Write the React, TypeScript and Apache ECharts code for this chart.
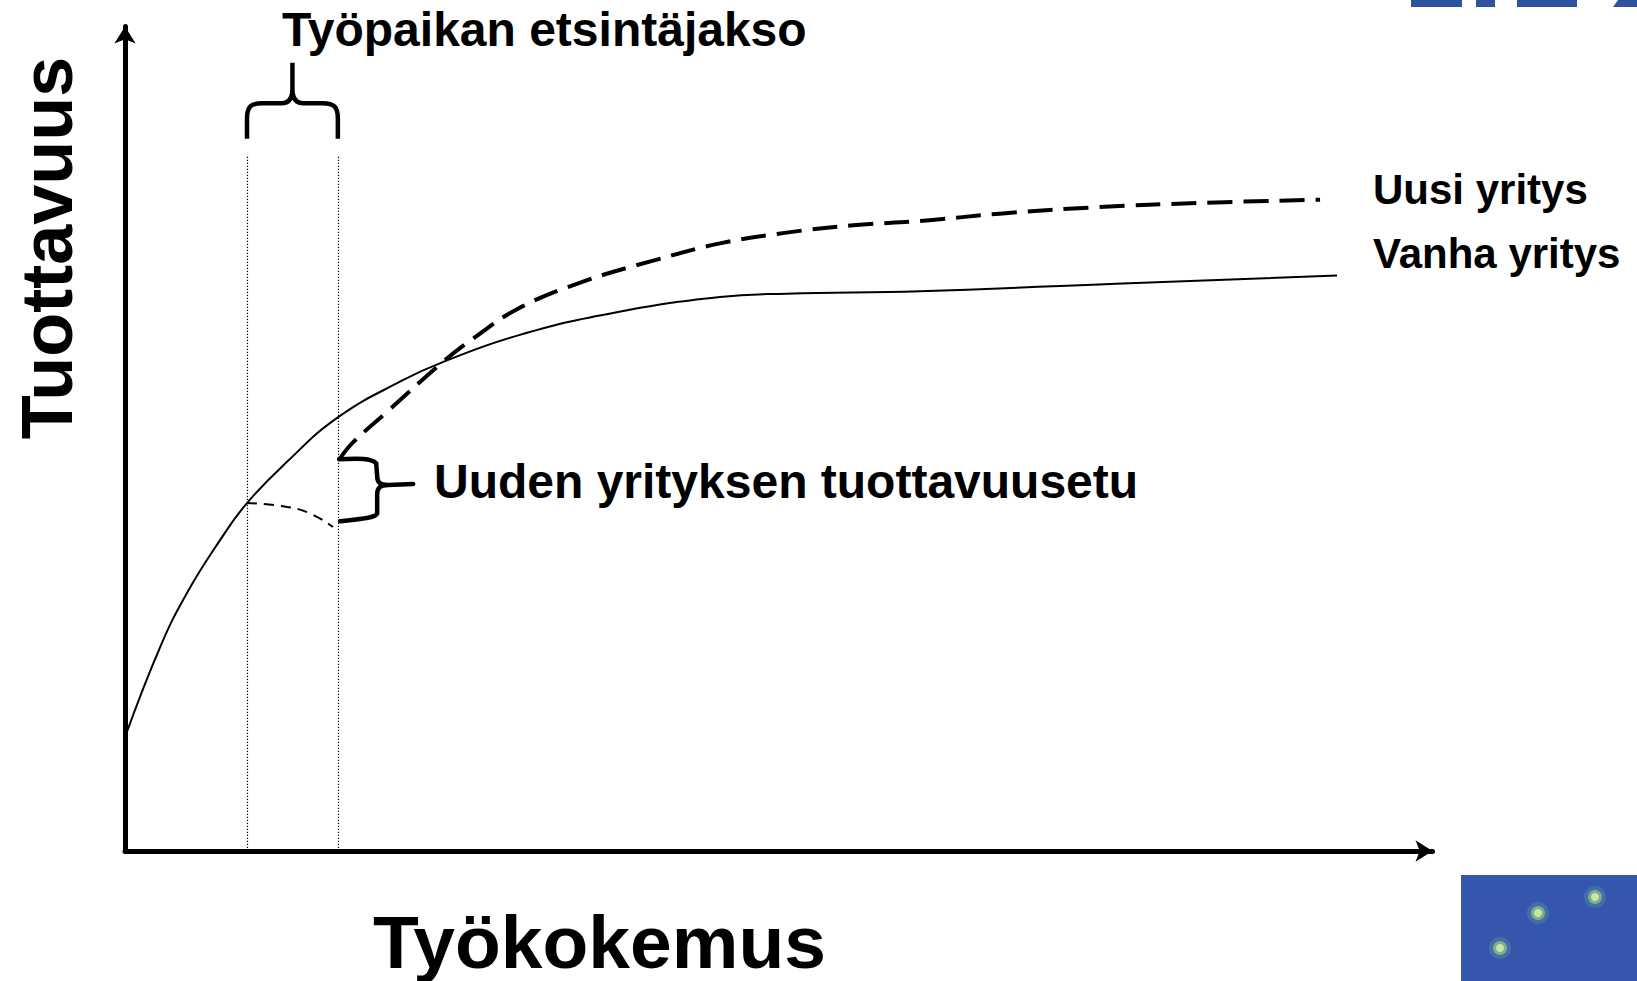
import React, { useEffect, useRef } from "react";
import * as echarts from "echarts";

// Vanha yritys (old firm) productivity curve
const oldFirmX = [0, 2.68, 4.74, 7.27, 9.33, 12.39, 16.28, 21.25, 24.3, 30.2, 37.8, 45.5, 50.6, 60.8, 75.8, 92.7];
const oldFirmY = [13.8, 24.7, 31.3, 37.7, 42.2, 47.2, 52.6, 57.1, 59.3, 62.6, 65.4, 67.2, 67.6, 67.9, 68.8, 69.8];
// Uusi yritys (new firm) productivity curve
const newFirmX = [16.44, 17.4, 20.0, 24.3, 26.4, 30.2, 35.3, 40.4, 45.5, 50.6, 55.7, 60.8, 66.9, 74.5, 82.2, 91.4];
const newFirmY = [47.6, 49.5, 53.2, 59.3, 61.9, 65.9, 69.2, 71.6, 73.7, 75.0, 75.9, 76.4, 77.3, 78.1, 78.6, 79.0];
// productivity during the job-search period (short dashed)
const searchX = [9.33, 11.62, 13.91, 15.9];
const searchY = [42.2, 41.9, 41.1, 39.3];
// job-search period boundaries
const searchPeriod = [9.33, 16.28];
const dottedTop = 84.4;

const titleText = "Työpaikan etsintäjakso";
const newLabel = "Uusi yritys";
const oldLabel = "Vanha yritys";
const gainLabel = "Uuden yrityksen tuottavuusetu";
const xName = "Työkokemus";
const yName = "Tuottavuus";

const zip = (xs: number[], ys: number[]) => xs.map((x, i) => [x, ys[i]]);

export default function App() {
  const ref = useRef<HTMLDivElement>(null);
  useEffect(() => {
    const chart = echarts.init(ref.current!, undefined, { renderer: "svg" });
    const font = "'Liberation Sans', Arial, Helvetica, sans-serif";
    const axisCommon = {
      type: "value",
      min: 0,
      max: 100,
      axisLine: {
        show: true,
        symbol: ["none", "arrow"],
        symbolSize: [16, 17],
        lineStyle: { color: "#000", width: 5 },
      },
      axisTick: { show: false },
      axisLabel: { show: false },
      splitLine: { show: false },
    };
    chart.setOption({
      animation: false,
      backgroundColor: "#ffffff",
      grid: { left: 125, right: 204.5, top: 26.5, bottom: 130 },
      xAxis: { ...axisCommon },
      yAxis: { ...axisCommon },
      series: [
        {
          name: oldLabel,
          type: "line",
          data: zip(oldFirmX, oldFirmY),
          smooth: 0.45,
          showSymbol: false,
          silent: true,
          lineStyle: { color: "#000", width: 2 },
          markLine: {
            silent: true,
            symbol: ["none", "none"],
            label: { show: false },
            lineStyle: { color: "#000", width: 1.2, type: [1.2, 1.8] },
            data: searchPeriod.map((x) => [
              { coord: [x, 0] },
              { coord: [x, dottedTop] },
            ]),
          },
        },
        {
          name: newLabel,
          type: "line",
          data: zip(newFirmX, newFirmY),
          smooth: 0.4,
          showSymbol: false,
          silent: true,
          lineStyle: { color: "#000", width: 4, type: [25, 11], cap: "butt" },
        },
        {
          name: "search",
          type: "line",
          data: zip(searchX, searchY),
          smooth: 0.5,
          showSymbol: false,
          silent: true,
          lineStyle: { color: "#000", width: 2, type: [10, 7] },
        },
      ],
    });

    const px = (x: number, y: number) =>
      chart.convertToPixel({ gridIndex: 0 }, [x, y]) as number[];

    // top brace over the search period
    const [xl, yb] = px(searchPeriod[0], 86.4);
    const [xr] = px(searchPeriod[1], 86.4);
    const [, ym] = px(0, 90.7);
    const [, yt] = px(0, 95.6);
    const xc = (xl + xr) / 2;
    const dTop =
      `M${xl},${yb} L${xl},${yb - 20} C${xl},${yb - 32} ${xl + 4},${ym} ${xl + 15},${ym} ` +
      `L${xc - 11},${ym} C${xc - 4},${ym} ${xc},${ym - 4} ${xc},${ym - 14} L${xc},${yt} ` +
      `M${xc},${ym - 14} C${xc},${ym - 4} ${xc + 4},${ym} ${xc + 11},${ym} ` +
      `L${xr - 15},${ym} C${xr - 4},${ym} ${xr},${yb - 32} ${xr},${yb - 20} L${xr},${yb}`;

    // side brace for the productivity gain
    const [sx, sy1] = px(searchPeriod[1] + 0.1, 47.5);
    const [, sy2] = px(0, 40.0);
    const [, smid] = px(0, 44.4);
    const spine = sx + 38;
    const tip = sx + 74;
    const dSide =
      `M${sx},${sy1} C${sx + 20},${sy1 - 1} ${spine - 6},${sy1 - 1} ${spine - 1},${sy1 + 4} ` +
      `L${spine},${smid - 9} C${spine},${smid - 2} ${spine + 3},${smid} ${spine + 11},${smid} L${tip},${smid - 1} ` +
      `M${spine + 11},${smid} C${spine + 3},${smid} ${spine},${smid + 3} ${spine},${smid + 9} ` +
      `L${spine},${sy2 - 8} C${spine - 1},${sy2 - 3} ${sx + 20},${sy2 - 2} ${sx + 1},${sy2}`;

    echarts.graphic.registerShape("braceTop", echarts.graphic.extendPath(dTop, {}));
    echarts.graphic.registerShape("braceSide", echarts.graphic.extendPath(dSide, {}));

    const txt = (text: string, x: number, y: number, size: number) => ({
      type: "text",
      x,
      y,
      silent: true,
      style: {
        text,
        fill: "#000",
        font: `bold ${size}px ${font}`,
        align: "left",
        verticalAlign: "middle",
      },
    });

    const star = (x: number, y: number) => [
      { type: "circle", shape: { cx: x, cy: y, r: 11 }, style: { fill: "#4a7aa8", opacity: 0.7 }, silent: true },
      { type: "circle", shape: { cx: x, cy: y, r: 7 }, style: { fill: "#7fae8e" }, silent: true },
      { type: "circle", shape: { cx: x, cy: y, r: 4 }, style: { fill: "#c6e7a2" }, silent: true },
    ];

    chart.setOption({
      graphic: [
        { type: "braceTop", x: 0, y: 0, silent: true, style: { stroke: "#000", fill: "none", lineWidth: 4.5, lineCap: "butt" } },
        { type: "braceSide", x: 0, y: 0, silent: true, style: { stroke: "#000", fill: "none", lineWidth: 4.5, lineCap: "round" } },
        txt(titleText, 282, 29, 48),
        txt(newLabel, 1373, 189, 42),
        txt(oldLabel, 1373, 253, 42),
        txt(gainLabel, 434, 481, 48),
        txt(xName, 373, 942, 75),
        {
          type: "text",
          x: 47,
          y: 248,
          rotation: Math.PI / 2,
          silent: true,
          style: { text: yName, fill: "#000", font: `bold 72px ${font}`, align: "center", verticalAlign: "middle" },
        },
        // logo fragments (top right)
        { type: "rect", shape: { x: 1411, y: 0, width: 51, height: 7 }, style: { fill: "#2f529f" }, silent: true },
        { type: "rect", shape: { x: 1476, y: 0, width: 19, height: 7 }, style: { fill: "#2f529f" }, silent: true },
        { type: "rect", shape: { x: 1517, y: 0, width: 60, height: 7 }, style: { fill: "#2f529f" }, silent: true },
        { type: "polygon", shape: { points: [[1613, 7], [1618, 0], [1637, 0], [1637, 7]] }, style: { fill: "#2f529f" }, silent: true },
        // bottom-right picture
        { type: "rect", shape: { x: 1461, y: 875, width: 176, height: 106 }, style: { fill: "#3456ac" }, silent: true },
        ...star(1538, 913),
        ...star(1595, 897),
        ...star(1500, 948),
      ],
    });
    return () => chart.dispose();
  }, []);
  return (
    <div
      ref={ref}
      style={{ position: "fixed", left: 0, top: 0, width: 1637, height: 981 }}
    />
  );
}
